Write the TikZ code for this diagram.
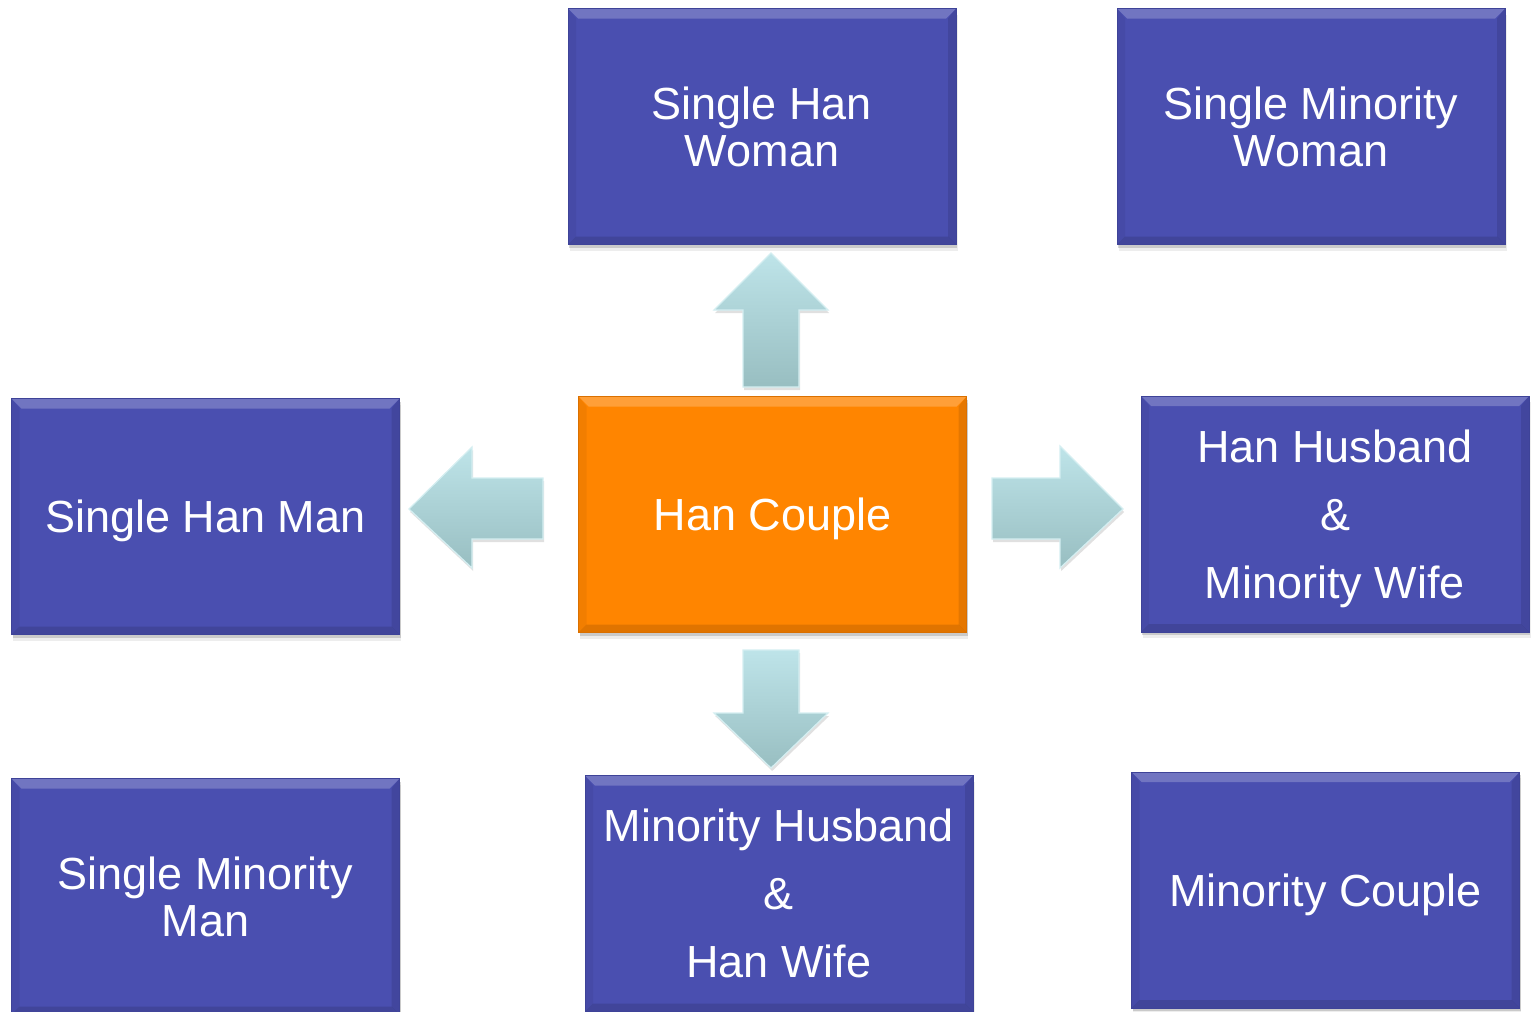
\documentclass[tikz,border=0pt]{standalone}
\usepackage{fontspec}
\setmainfont{Liberation Sans}
\usetikzlibrary{shadows}
\definecolor{boxblue}{HTML}{4A4FB0}
\definecolor{boxblueedge}{HTML}{3E4398}
\definecolor{boxorange}{HTML}{FF8500}
\definecolor{boxorangeedge}{HTML}{DA7000}
\definecolor{arrtop}{HTML}{BEE4E9}
\definecolor{arrbot}{HTML}{98BEC1}
\definecolor{arredge}{HTML}{D4EEF1}
\tikzset{
  bevel/.style={path picture={
    \fill[white,opacity=0.22] (path picture bounding box.north west) -- (path picture bounding box.north east)
      -- ([xshift=-5pt,yshift=-5pt]path picture bounding box.north east)
      -- ([xshift=5pt,yshift=-5pt]path picture bounding box.north west) -- cycle;
    \fill[black,opacity=0.12] (path picture bounding box.south west) -- (path picture bounding box.south east)
      -- ([xshift=-4pt,yshift=4pt]path picture bounding box.south east)
      -- ([xshift=4pt,yshift=4pt]path picture bounding box.south west) -- cycle;
    \fill[black,opacity=0.10] (path picture bounding box.north east) -- (path picture bounding box.south east)
      -- ([xshift=-4pt,yshift=4pt]path picture bounding box.south east)
      -- ([xshift=-4pt,yshift=-5pt]path picture bounding box.north east) -- cycle;
    \fill[black,opacity=0.05] (path picture bounding box.north west) -- (path picture bounding box.south west)
      -- ([xshift=4pt,yshift=4pt]path picture bounding box.south west)
      -- ([xshift=4pt,yshift=-5pt]path picture bounding box.north west) -- cycle;
  }},
  softshadow/.style={
    drop shadow={shadow xshift=0.5pt, shadow yshift=-1.5pt, opacity=0.22, fill=black!70},
    drop shadow={shadow xshift=0.8pt, shadow yshift=-3pt, opacity=0.10, fill=black!70}},
  box/.style={rectangle, inner sep=0pt, minimum width=194pt, minimum height=118pt,
    fill=boxblue, draw=boxblueedge, line width=0.4pt, text=white, align=center,
    font=\fontsize{22.5pt}{23.5pt}\selectfont, text depth=0pt, bevel, softshadow},
  threeline/.style={font=\fontsize{22.5pt}{34pt}\selectfont},
  centerbox/.style={box, fill=boxorange, draw=boxorangeedge},
  blockarrow/.style={top color=arrtop, bottom color=arrbot, draw=arredge, line width=0.6pt,
    drop shadow={shadow xshift=0.6pt, shadow yshift=-1.5pt, opacity=0.2, fill=black!60}},
}
\begin{document}
\begin{tikzpicture}[x=0.5pt, y=-0.5pt]
\useasboundingbox (0,0) rectangle (1533,1012);
\node[box] (hw) at (762,126.5) {Single Han\\Woman};
\node[box] (mw) at (1311,126.5) {Single Minority\\Woman};
\node[box] (hm) at (205.5,516.5) {Single Han Man};
\node[centerbox] (hc) at (772.5,514.5) {Han Couple};
\node[box,threeline] (hhmw) at (1335,514) {Han Husband\\\&\\Minority Wife};
\node[box] (mm) at (205.5,896.5) {Single Minority\\Man};
\node[box,threeline] (mhhw) at (779,893.5) {Minority Husband\\\&\\Han Wife};
\node[box] (mc) at (1325.5,890) {Minority Couple};
% block arrows
\path[blockarrow] (743,387) -- (743,310) -- (714,310) -- (771,253) -- (828,310) -- (799,310) -- (799,387) -- cycle;
\path[blockarrow] (743,650) -- (743,713) -- (714,713) -- (771,768) -- (828,713) -- (799,713) -- (799,650) -- cycle;
\path[blockarrow] (543,478) -- (472,478) -- (472,447) -- (409,509) -- (472,568) -- (472,539) -- (543,539) -- cycle;
\path[blockarrow] (992,478) -- (1060,478) -- (1060,446) -- (1123,509) -- (1060,568) -- (1060,539) -- (992,539) -- cycle;
\end{tikzpicture}
\end{document}
